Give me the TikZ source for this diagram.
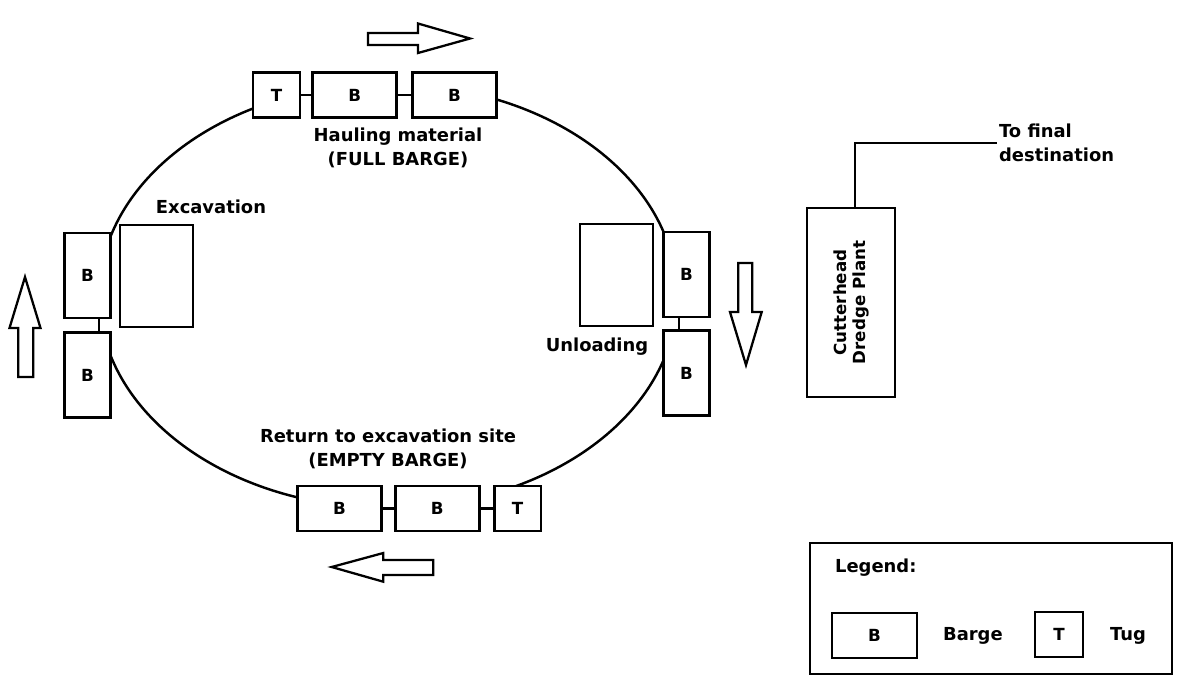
\documentclass[tikz,border=0pt]{standalone}
\usepackage{fontspec}
\setmainfont{DejaVu Sans}
\usetikzlibrary{positioning}
\newcommand\notefont{\fontsize{10.2}{13.7}\selectfont\bfseries}
\newcommand\boxfont{\fontsize{9.5}{11}\selectfont\bfseries}
\tikzset{
  barge/.style={draw, fill=white, line width=1.6pt, minimum width=1.68cm, minimum height=0.9cm, inner sep=0pt, font=\boxfont},
  bargev/.style={barge, minimum width=0.92cm, minimum height=1.7cm},
  tug/.style={barge, minimum width=0.94cm},
  site/.style={draw, fill=white, line width=1.6pt, minimum width=1.46cm, minimum height=2.04cm},
  hollow/.style={draw, fill=white, line width=1.3pt, line join=miter},
  note/.style={font=\notefont, align=center, inner sep=1pt},
  link/.style={line width=1.3pt},
  cycleline/.style={line width=1.4pt}
}
\begin{document}
\begin{tikzpicture}[x=0.02cm,y=-0.02cm]
    \useasboundingbox (0,0) rectangle (1180,677);
    % Kreislauf
    \draw[cycleline] (388,296) ellipse[x radius=289,y radius=212];
    % Verbaende decken den Kreis ab
    \fill[white] (253,73) rectangle (490,118) (297,485) rectangle (537,531)
                 (64,233) rectangle (110,414) (663,232) rectangle (710,415);
    % oben: voller Verband
    \node[tug] (tTop) at (276.5,95) {T};
    \node[barge, right=0.2cm of tTop] (bTop1) {B};
    \node[barge, right=0.26cm of bTop1] (bTop2) {B};
    \draw[link] (tTop) -- (bTop1) (bTop1) -- (bTop2);
    % unten: leerer Verband
    \node[barge] (bBot1) at (339.5,508.5) {B};
    \node[barge, right=0.22cm of bBot1] (bBot2) {B};
    \node[tug, right=0.24cm of bBot2] (tBot) {T};
    \draw[link] (bBot1) -- (bBot2) (bBot2) -- (tBot);
    % links: Aushub
    \node[bargev] (bLeft1) at (87.5,275.5) {B};
    \node[bargev, below=0.24cm of bLeft1] (bLeft2) {B};
    \draw[link] ([xshift=0.23cm]bLeft1.south) -- ([xshift=0.23cm]bLeft2.north);
    \node[site] (excSite) at (156.5,276) {};
    % rechts: Entladen
    \node[bargev] (bRight1) at (686.5,274.5) {B};
    \node[bargev, below=0.22cm of bRight1] (bRight2) {B};
    \draw[link] ([xshift=-0.15cm]bRight1.south) -- ([xshift=-0.15cm]bRight2.north);
    \node[site] (unlSite) at (616.5,275) {};
    % Richtungspfeile
    \draw[hollow] (368,33) -- (418,33) -- (418,23.5) -- (470,38.5) -- (418,53) -- (418,45) -- (368,45) -- cycle;
    \draw[hollow] (18.3,377) -- (18.3,328) -- (9.5,328) -- (25,277) -- (40.5,328) -- (33.3,328) -- (33.3,377) -- cycle;
    \draw[hollow] (738.3,263) -- (752.3,263) -- (752.3,312) -- (761.7,312) -- (746,365) -- (730,312) -- (738.3,312) -- cycle;
    \draw[hollow] (433.3,560) -- (383.3,560) -- (383.3,553) -- (331.7,567) -- (383.3,581.7) -- (383.3,575) -- (433.3,575) -- cycle;
    % Beschriftungen
    \node[note] (haulText) at (398,148) {Hauling material\\(FULL BARGE)};
    \node[note] (excText) at (211,207) {Excavation};
    \node[note] (unlText) at (597,347) {Unloading};
    \node[note] (retText) at (388,449) {Return to excavation site\\(EMPTY BARGE)};
    % Spuelanlage
    \node[draw, line width=1.6pt, minimum width=1.76cm, minimum height=3.78cm] (dredge) at (851,302.5) {};
    \node[rotate=90, align=center, font=\fontsize{9.5}{10.8}\selectfont\bfseries] (dredgeText) at (dredge) {Cutterhead\\Dredge Plant};
    \node[note, align=left, anchor=west] (dest) at (997,143) {To final\\destination};
    \draw[link] ([xshift=0.08cm]dredge.north) |- (dest.west);
    % Legende
    \node[draw, line width=1.6pt, minimum width=7.24cm, minimum height=2.62cm] (legend) at (991,608.5) {};
    \node[note, anchor=west] (legTitle) at (833,568) {Legend:};
    \node[barge, minimum width=1.7cm] (legB) at (874.5,635.5) {B};
    \node[note, anchor=west] (legBText) at (941,636) {Barge};
    \node[tug, minimum width=0.96cm] (legT) at (1059,634.5) {T};
    \node[note, anchor=west] (legTText) at (1108,636) {Tug};
  \end{tikzpicture}
\end{document}
